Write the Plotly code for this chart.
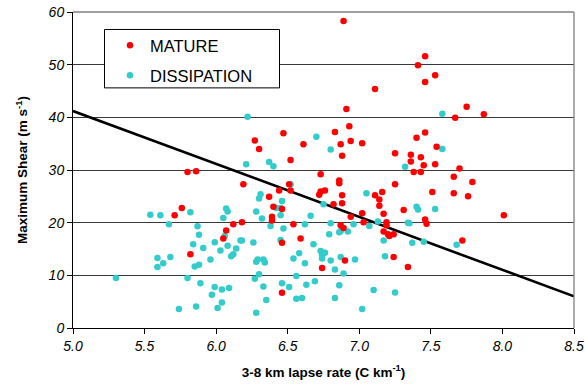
import plotly.graph_objects as go

# MATURE (red) points: lapse rate (C/km), max shear (m/s)
mature_x = [6.89, 7.11, 6.91, 6.93, 6.47, 6.27, 6.30, 6.61, 6.83, 6.87, 6.94, 7.02, 6.88, 7.25,
            5.80, 5.86, 6.19, 5.76, 5.71, 6.52, 6.73, 6.86, 6.86, 7.25, 6.51, 6.44, 6.52, 6.76,
            6.73, 6.72, 6.37, 6.88, 7.11, 7.16, 7.14, 6.88, 6.82, 6.40, 6.46, 6.39, 6.39, 6.94,
            7.02, 7.14, 7.17, 6.12, 6.18, 6.07, 6.05, 5.82, 6.54, 7.03, 6.87, 6.89, 7.19, 7.19,
            7.17, 7.20, 7.24, 7.21, 7.24, 6.46, 6.59, 6.90, 6.46, 6.74, 7.34, 7.46, 7.41, 7.53,
            7.46, 7.67, 7.75, 7.87, 7.46, 7.40, 7.54, 7.36, 7.43, 7.36, 7.45, 7.53, 7.38, 7.43,
            7.70, 7.66, 7.79, 7.51, 7.66, 7.76, 7.31, 7.46, 7.47, 8.01, 7.72]
mature_y = [58.3, 45.4, 41.6, 38.3, 37.0, 35.6, 34.0, 34.9, 37.2, 34.9, 35.5, 35.1, 32.7, 33.2,
            29.6, 29.75, 27.3, 22.8, 21.4, 31.9, 29.2, 28.0, 27.5, 27.3, 27.3, 26.1, 26.1, 26.1,
            25.9, 25.3, 24.9, 25.2, 25.2, 25.8, 24.4, 23.7, 23.5, 23.0, 22.6, 21.1, 20.4, 21.1,
            21.8, 23.2, 21.7, 19.7, 20.1, 18.5, 17.0, 14.0, 19.7, 20.1, 19.5, 19.0, 20.1, 19.5,
            18.3, 17.8, 17.8, 17.45, 13.5, 16.2, 17.0, 12.8, 6.7, 11.4, 11.6, 51.6, 49.9, 48.0,
            46.7, 39.9, 42.0, 40.6, 37.1, 36.1, 34.4, 32.9, 32.4, 31.6, 30.9, 31.1, 29.6, 29.6,
            30.3, 28.7, 27.7, 25.8, 25.6, 25.0, 22.4, 20.6, 19.8, 21.4, 16.6]

# DISSIPATION (cyan) points
dissip_x = [6.22, 6.21, 6.30, 5.54, 5.61, 5.82, 6.07, 6.08, 6.05, 6.28, 5.67, 5.87, 5.88, 5.84,
            5.91, 6.06, 5.99, 6.08, 6.03, 6.17, 6.14, 6.12, 6.105, 5.96, 6.26, 6.29, 6.28, 5.59,
            5.68, 5.63, 5.59, 5.85, 5.88, 5.30, 5.80, 5.89, 5.99, 6.04, 6.09, 5.97, 5.74, 5.86,
            6.04, 6.01, 6.27, 6.30, 6.28, 6.33, 6.34, 6.33, 6.35, 6.46, 6.51, 6.56, 6.56, 6.60,
            6.63, 6.69, 6.83, 6.89, 6.86, 6.83, 7.02, 7.10, 7.25, 6.70, 6.80, 6.37, 6.40, 6.52,
            6.31, 6.46, 7.05, 6.75, 6.42, 6.45, 6.45, 6.66, 6.32, 6.38, 6.47, 6.62, 6.96, 6.80,
            6.79, 6.86, 6.87, 6.92, 7.07, 7.13, 7.17, 7.18, 6.18, 6.45, 6.68, 6.58, 6.54, 6.62,
            6.73, 6.76, 6.74, 6.74, 6.80, 6.87, 6.97, 7.58, 7.58, 7.32, 7.40, 7.41, 7.53, 7.34,
            7.35, 7.37, 7.45, 7.68]
dissip_y = [40.1, 31.1, 24.6, 21.5, 21.4, 22.0, 22.7, 22.1, 20.9, 22.1, 19.7, 19.3, 17.7, 15.9,
            15.2, 17.45, 16.3, 15.6, 14.7, 16.6, 15.1, 14.0, 13.6, 13.0, 16.25, 13.0, 12.6, 13.3,
            13.5, 12.3, 11.6, 11.7, 12.0, 9.5, 9.5, 8.5, 7.8, 7.3, 7.6, 6.3, 3.6, 4.1,
            4.85, 3.8, 9.35, 10.2, 2.9, 13.0, 12.45, 7.9, 5.3, 8.5, 7.8, 9.85, 5.55, 5.7,
            8.2, 8.9, 11.1, 10.35, 8.1, 5.7, 3.6, 7.2, 6.75, 36.3, 33.9, 31.5, 30.7, 27.3,
            25.4, 24.1, 25.6, 23.5, 22.8, 22.8, 21.4, 21.3, 20.8, 19.35, 18.9, 19.7, 19.7, 19.9,
            17.8, 18.2, 18.4, 18.3, 19.35, 20.2, 16.6, 13.6, 16.6, 16.7, 15.9, 14.2, 13.2, 12.3,
            14.6, 14.3, 13.8, 13.2, 12.8, 13.5, 13.0, 40.7, 34.0, 30.6, 23.0, 22.5, 22.6, 20.0,
            19.9, 16.2, 16.4, 15.8]

# Fitted line endpoints
fit_x = [5.0, 8.5]
fit_y = [41.2, 6.0]

x_ticks = [5.0, 5.5, 6.0, 6.5, 7.0, 7.5, 8.0, 8.5]
x_ticklabels = ["5.0", "5.5", "6.0", "6.5", "7.0", "7.5", "8.0", "8.5"]
y_ticks = [0, 10, 20, 30, 40, 50, 60]

FONT = "Liberation Sans, Arial, sans-serif"
RED = "#FF0000"
CYAN = "#33CCCC"

W, H = 585, 392
# plot area in window pixel coordinates
X0, X1, Y0, Y1 = 73, 574, 12, 328.5
L, R, T, B = X0, W - X1, Y0, H - Y1
PW = X1 - X0
PH = Y1 - Y0

def px(xp):
    return (xp - X0) / PW

def py(yp):
    return (Y1 - yp) / PH

fig = go.Figure()
fig.add_trace(go.Scatter(x=fit_x, y=fit_y, mode="lines",
                         line=dict(color="black", width=2.6), showlegend=False,
                         hoverinfo="skip"))
fig.add_trace(go.Scatter(x=dissip_x, y=dissip_y, mode="markers", name="DISSIPATION",
                         marker=dict(color=CYAN, size=6.5), legendgroup="d", legendrank=2))
fig.add_trace(go.Scatter(x=mature_x, y=mature_y, mode="markers", name="MATURE",
                         marker=dict(color=RED, size=6.5), legendgroup="m", legendrank=1))

# Legend box (frame)
fig.add_shape(type="rect", xref="paper", yref="paper",
              x0=px(104.5), x1=px(279.5), y0=py(88), y1=py(29.5),
              line=dict(color="black", width=1), fillcolor="white", layer="above")
# top/right gray frame
fig.add_shape(type="line", xref="paper", yref="paper", x0=0, x1=1, y0=1, y1=1,
              line=dict(color="#808080", width=1.3))
fig.add_shape(type="line", xref="paper", yref="paper", x0=1, x1=1, y0=0, y1=1,
              line=dict(color="#808080", width=1.3))

fig.update_layout(
    width=W, height=H,
    margin=dict(l=L, r=R, t=T, b=B, autoexpand=False),
    paper_bgcolor="white", plot_bgcolor="white",
    font=dict(family=FONT, color="black"),
    showlegend=True,
    legend=dict(x=px(110), y=py(28), xanchor="left", yanchor="top",
                bgcolor="rgba(0,0,0,0)", borderwidth=0,
                font=dict(family=FONT, size=16.5, color="black"),
                tracegroupgap=5.5, itemwidth=30),
    xaxis=dict(range=[5.0, 8.5], tickvals=x_ticks, ticktext=x_ticklabels, automargin=False,
               showgrid=False, zeroline=False, showline=True, linecolor="black", linewidth=1,
               ticks="outside", ticklen=5, tickcolor="black", ticklabeloverflow="allow",
               tickfont=dict(family=FONT, size=14, style="italic"),
               title=dict(text="3-8 km lapse rate (C km<sup>-1</sup>)",
                          font=dict(family=FONT, size=13.5, weight="bold"), standoff=14)),
    yaxis=dict(range=[0, 60], tickvals=y_ticks, automargin=False,
               showgrid=True, gridcolor="#3a3a3a", gridwidth=1,
               zeroline=False, showline=True, linecolor="black", linewidth=1,
               ticks="outside", ticklen=5, tickcolor="black", ticklabeloverflow="allow",
               tickfont=dict(family=FONT, size=14, style="italic"),
               title=dict(text="Maximum Shear (m s<sup>-1</sup>)",
                          font=dict(family=FONT, size=13.5, weight="bold"), standoff=16)),
)

fig.write_html("out.html",
               config={"displayModeBar": False},
               post_script="document.body.style.margin='0px';"
                           "document.body.style.overflow='hidden';")
